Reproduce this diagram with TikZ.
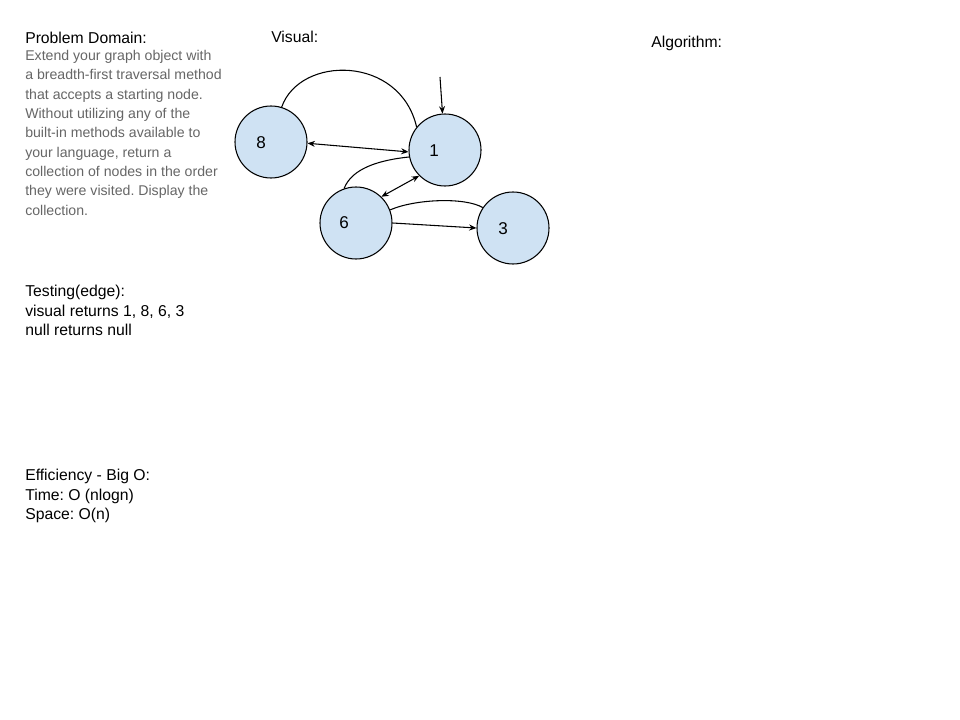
\documentclass[tikz,border=0pt]{standalone}
\usepackage{fontspec}
\setmainfont{Liberation Sans}
\usetikzlibrary{arrows.meta}
\definecolor{nodefill}{HTML}{CFE2F3}
\definecolor{graytext}{HTML}{666666}
\frenchspacing
\begin{document}
\frenchspacing
\begin{tikzpicture}[x=0.75pt,y=-0.75pt,
  vert/.style={circle,draw=black,fill=nodefill,line width=0.8pt,minimum size=54pt,inner sep=0pt},
  lbl/.style={font=\fontsize{12.8pt}{14pt}\selectfont,inner sep=0pt},
  edge/.style={line width=0.8pt},
  tip/.style={-{Stealth[length=5.5pt,width=4.5pt]}},
  dtip/.style={{Stealth[length=5.5pt,width=4.5pt]}-{Stealth[length=5.5pt,width=4.5pt]}},
  head/.style={anchor=base west,inner sep=0pt,font=\frenchspacing\fontsize{11.8pt}{14.6pt}\selectfont},
  body/.style={anchor=north west,inner sep=0pt,align=left,text=graytext,font=\frenchspacing\fontsize{10.6pt}{14.5pt}\selectfont},
  blk/.style={anchor=north west,inner sep=0pt,align=left,font=\frenchspacing\fontsize{11.8pt}{14.6pt}\selectfont}]
\useasboundingbox (0,0) rectangle (960,720);
\fill[white] (0,0) rectangle (960,720);

% texts
\node[head] (pd) at (25,44) {Problem Domain:};
\node[body] (pdtext) at (25,50) {Extend your graph object with\\a breadth-first traversal method\\that accepts a starting node.\\Without utilizing any of the\\built-in methods available to\\your language, return a\\collection of nodes in the order\\they were visited. Display the\\collection.};
\node[head] (vis) at (271,43) {Visual:};
\node[head] (alg) at (651,48) {Algorithm:};
\node[blk] (test) at (25,285) {Testing(edge):\\visual returns 1, 8, 6, 3\\null returns null};
\node[blk] (eff) at (25,469) {Efficiency - Big O:\\Time: O (nlogn)\\Space: O(n)};

% graph nodes
\node[vert] (n8) at (271,142) {};
\node[vert] (n1) at (445,150) {};
\node[vert] (n6) at (356,223) {};
\node[vert] (n3) at (513,228) {};
\node[lbl] (t8) at (261,143) {8};
\node[lbl] (t1) at (434,151) {1};
\node[lbl] (t6) at (344,223) {6};
\node[lbl] (t3) at (503,229) {3};

\coordinate (start) at (440,77);

% connectors
\draw[edge] (n8.73) .. controls (300,55) and (400,55) .. (n1.141);
\draw[edge,tip] (start) -- (n1);
\draw[edge,dtip] (n8.-2) -- (n1.183);
\draw[edge] (n6.109) .. controls (352,168) and (380,160) .. (n1.191);
\draw[edge,dtip] (n6.46) -- (n1.225);
\draw[edge] (n6.21) .. controls (415,199) and (465,197) .. (n3.146);
\draw[edge,tip] (n6.east) -- (n3.west);
\end{tikzpicture}
\end{document}
